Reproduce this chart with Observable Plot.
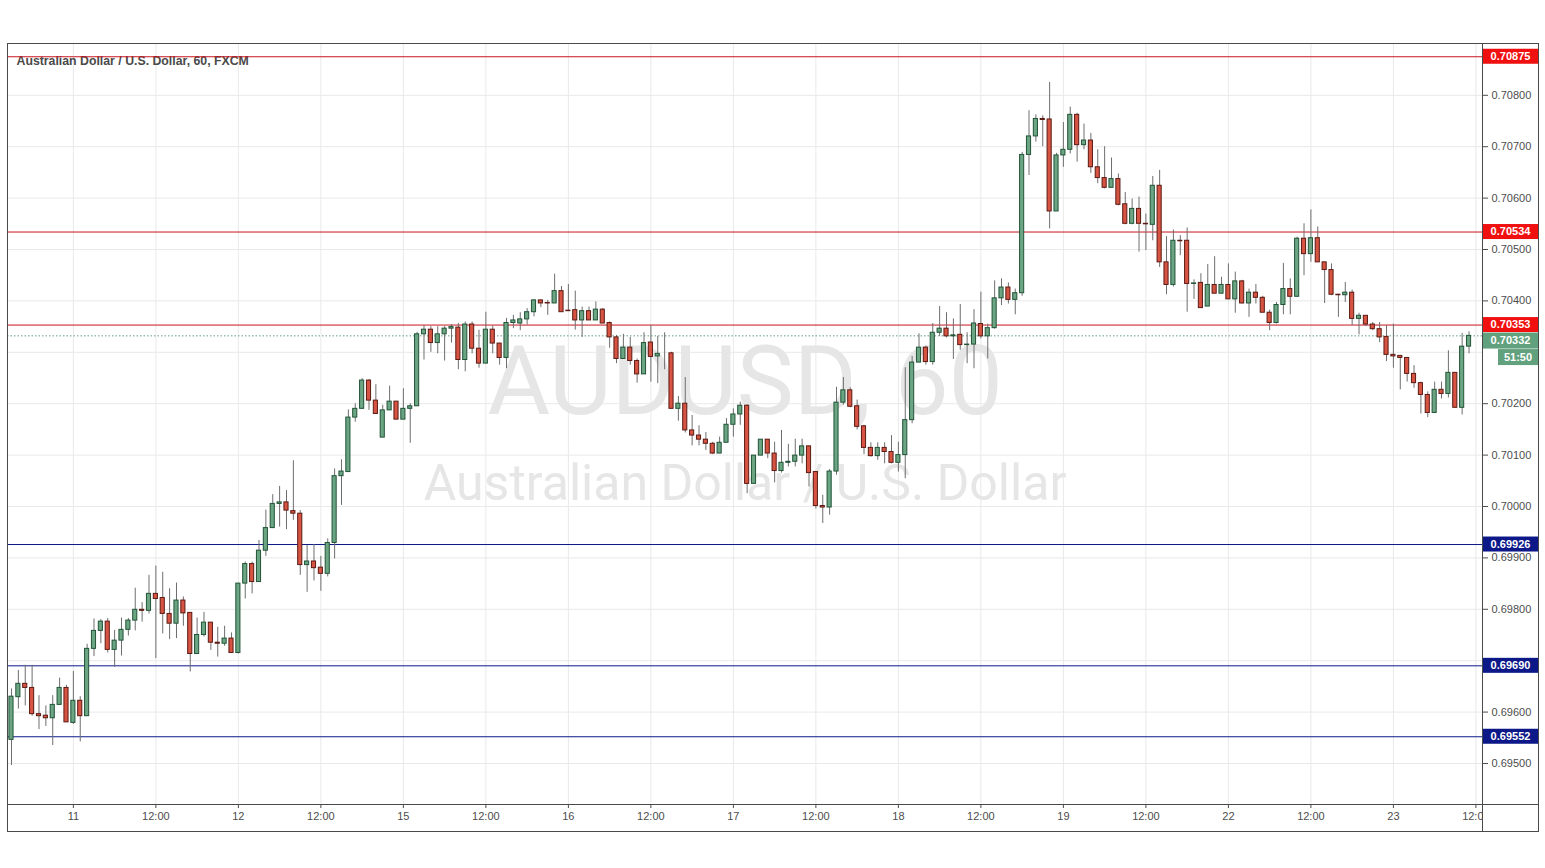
<!DOCTYPE html>
<html><head><meta charset="utf-8">
<script src="https://cdn.jsdelivr.net/npm/d3@7"></script>
<script src="https://cdn.jsdelivr.net/npm/@observablehq/plot@0.6"></script>
<style>
html,body{margin:0;padding:0;background:#fff;}
#chart svg{display:block;}
</style>
</head><body><div id="chart"></div>
<script>
// AUD/USD hourly candles, 10th 15:00 -> 23rd 11:00 (trading hours only)
const opens=[
0.69546,0.69629,0.69655,0.69647,0.69596,0.69593,0.69588,0.69614,0.69647,0.69579,
0.69622,0.69592,0.69723,0.69758,0.69776,0.69721,0.69739,0.69760,0.69778,0.69799,
0.69797,0.69830,0.69822,0.69791,0.69772,0.69817,0.69793,0.69713,0.69750,0.69774,
0.69735,0.69733,0.69743,0.69715,0.69850,0.69888,0.69853,0.69914,0.69958,0.70005,
0.70008,0.69991,0.69986,0.69886,0.69893,0.69881,0.69869,0.69929,0.70059,0.70067,
0.70173,0.70190,0.70245,0.70206,0.70134,0.70187,0.70204,0.70169,0.70190,0.70195,
0.70335,0.70344,0.70318,0.70335,0.70346,0.70348,0.70285,0.70354,0.70307,0.70278,
0.70344,0.70317,0.70289,0.70357,0.70356,0.70364,0.70378,0.70401,0.70396,0.70395,
0.70419,0.70381,0.70382,0.70362,0.70380,0.70362,0.70383,0.70357,0.70329,0.70287,
0.70309,0.70283,0.70257,0.70319,0.70292,0.70297,0.70298,0.70190,0.70200,0.70148,
0.70138,0.70130,0.70122,0.70103,0.70124,0.70159,0.70179,0.70196,0.70044,0.70099,
0.70130,0.70103,0.70069,0.70085,0.70087,0.70099,0.70117,0.70067,0.70001,0.69998,
0.70068,0.70202,0.70226,0.70195,0.70156,0.70114,0.70098,0.70114,0.70106,0.70085,
0.70100,0.70168,0.70280,0.70309,0.70281,0.70338,0.70346,0.70331,0.70334,0.70314,
0.70315,0.70355,0.70331,0.70347,0.70405,0.70426,0.70402,0.70415,0.70684,0.70720,
0.70754,0.70753,0.70574,0.70683,0.70694,0.70762,0.70703,0.70712,0.70660,0.70639,
0.70620,0.70637,0.70588,0.70550,0.70579,0.70550,0.70548,0.70624,0.70475,0.70431,
0.70517,0.70517,0.70433,0.70435,0.70389,0.70431,0.70414,0.70431,0.70403,0.70438,
0.70395,0.70416,0.70406,0.70377,0.70357,0.70392,0.70423,0.70408,0.70521,0.70491,
0.70522,0.70475,0.70460,0.70412,0.70411,0.70416,0.70365,0.70371,0.70354,0.70345,
0.70330,0.70295,0.70293,0.70289,0.70258,0.70240,0.70217,0.70182,0.70227,0.70219,
0.70260,0.70192,0.70311];
const highs=[
0.69645,0.69681,0.69691,0.69691,0.69632,0.69612,0.69632,0.69666,0.69652,0.69679,
0.69630,0.69732,0.69781,0.69780,0.69782,0.69759,0.69783,0.69782,0.69841,0.69813,
0.69866,0.69884,0.69872,0.69840,0.69851,0.69824,0.69793,0.69783,0.69794,0.69774,
0.69765,0.69767,0.69754,0.69850,0.69892,0.69892,0.69934,0.69993,0.70023,0.70039,
0.70031,0.70089,0.69992,0.69924,0.69926,0.69903,0.69937,0.70073,0.70091,0.70188,
0.70200,0.70249,0.70247,0.70237,0.70197,0.70234,0.70204,0.70229,0.70200,0.70339,
0.70352,0.70350,0.70350,0.70350,0.70354,0.70356,0.70359,0.70359,0.70343,0.70378,
0.70351,0.70317,0.70366,0.70372,0.70377,0.70385,0.70402,0.70402,0.70401,0.70452,
0.70428,0.70432,0.70419,0.70388,0.70388,0.70398,0.70385,0.70359,0.70333,0.70335,
0.70329,0.70287,0.70338,0.70352,0.70331,0.70338,0.70300,0.70214,0.70251,0.70177,
0.70157,0.70144,0.70125,0.70135,0.70171,0.70190,0.70203,0.70198,0.70099,0.70130,
0.70130,0.70125,0.70148,0.70121,0.70131,0.70131,0.70117,0.70067,0.70022,0.70072,
0.70232,0.70251,0.70231,0.70207,0.70158,0.70124,0.70124,0.70124,0.70138,0.70125,
0.70270,0.70292,0.70336,0.70312,0.70356,0.70389,0.70377,0.70365,0.70393,0.70338,
0.70383,0.70417,0.70355,0.70439,0.70443,0.70435,0.70423,0.70689,0.70770,0.70762,
0.70760,0.70825,0.70687,0.70747,0.70777,0.70765,0.70744,0.70726,0.70694,0.70700,
0.70678,0.70647,0.70611,0.70598,0.70602,0.70569,0.70642,0.70654,0.70525,0.70538,
0.70527,0.70542,0.70441,0.70453,0.70471,0.70486,0.70446,0.70472,0.70456,0.70440,
0.70423,0.70432,0.70409,0.70382,0.70397,0.70473,0.70443,0.70524,0.70550,0.70577,
0.70544,0.70475,0.70472,0.70413,0.70436,0.70421,0.70376,0.70371,0.70358,0.70358,
0.70352,0.70355,0.70293,0.70290,0.70274,0.70242,0.70223,0.70242,0.70242,0.70303,
0.70260,0.70337,0.70340];
const lows=[
0.69496,0.69606,0.69612,0.69592,0.69566,0.69572,0.69535,0.69614,0.69580,0.69576,
0.69542,0.69592,0.69708,0.69733,0.69715,0.69687,0.69709,0.69748,0.69758,0.69775,
0.69791,0.69704,0.69752,0.69741,0.69743,0.69767,0.69678,0.69713,0.69746,0.69720,
0.69707,0.69728,0.69715,0.69713,0.69820,0.69830,0.69853,0.69903,0.69957,0.69960,
0.69955,0.69973,0.69866,0.69833,0.69855,0.69835,0.69863,0.69898,0.70002,0.70067,
0.70164,0.70190,0.70187,0.70180,0.70134,0.70187,0.70169,0.70169,0.70123,0.70195,
0.70285,0.70300,0.70297,0.70283,0.70318,0.70266,0.70262,0.70297,0.70269,0.70278,
0.70297,0.70275,0.70268,0.70346,0.70342,0.70353,0.70369,0.70387,0.70372,0.70395,
0.70378,0.70380,0.70343,0.70329,0.70362,0.70362,0.70356,0.70308,0.70278,0.70287,
0.70275,0.70240,0.70257,0.70242,0.70239,0.70266,0.70190,0.70166,0.70143,0.70118,
0.70118,0.70109,0.70101,0.70103,0.70124,0.70135,0.70158,0.70025,0.70044,0.70099,
0.70093,0.70046,0.70065,0.70077,0.70077,0.70083,0.70038,0.69995,0.69967,0.69983,
0.70061,0.70197,0.70192,0.70149,0.70101,0.70096,0.70090,0.70083,0.70083,0.70067,
0.70054,0.70161,0.70280,0.70275,0.70275,0.70331,0.70328,0.70286,0.70304,0.70278,
0.70268,0.70326,0.70287,0.70345,0.70391,0.70394,0.70373,0.70409,0.70644,0.70709,
0.70700,0.70540,0.70574,0.70660,0.70686,0.70670,0.70694,0.70648,0.70628,0.70618,
0.70620,0.70585,0.70548,0.70548,0.70495,0.70498,0.70517,0.70465,0.70412,0.70427,
0.70488,0.70378,0.70403,0.70386,0.70389,0.70414,0.70414,0.70403,0.70376,0.70394,
0.70368,0.70394,0.70377,0.70342,0.70355,0.70373,0.70373,0.70408,0.70449,0.70475,
0.70475,0.70395,0.70410,0.70368,0.70397,0.70352,0.70334,0.70350,0.70342,0.70319,
0.70282,0.70269,0.70227,0.70242,0.70230,0.70180,0.70173,0.70182,0.70209,0.70211,
0.70192,0.70178,0.70297];
const closes=[
0.69630,0.69655,0.69647,0.69596,0.69592,0.69588,0.69614,0.69647,0.69580,0.69622,
0.69592,0.69723,0.69758,0.69776,0.69721,0.69739,0.69760,0.69778,0.69799,0.69797,
0.69830,0.69820,0.69791,0.69772,0.69817,0.69792,0.69713,0.69750,0.69774,0.69735,
0.69733,0.69743,0.69715,0.69850,0.69888,0.69853,0.69914,0.69958,0.70005,0.70008,
0.69992,0.69986,0.69886,0.69893,0.69880,0.69869,0.69929,0.70059,0.70068,0.70173,
0.70190,0.70245,0.70206,0.70180,0.70187,0.70204,0.70169,0.70190,0.70195,0.70335,
0.70344,0.70318,0.70335,0.70346,0.70349,0.70285,0.70354,0.70307,0.70278,0.70344,
0.70317,0.70289,0.70357,0.70362,0.70364,0.70378,0.70401,0.70395,0.70395,0.70419,
0.70378,0.70380,0.70362,0.70380,0.70362,0.70383,0.70356,0.70329,0.70287,0.70309,
0.70283,0.70257,0.70318,0.70291,0.70297,0.70297,0.70190,0.70200,0.70148,0.70138,
0.70130,0.70122,0.70103,0.70124,0.70159,0.70179,0.70196,0.70044,0.70099,0.70130,
0.70103,0.70069,0.70085,0.70087,0.70099,0.70117,0.70065,0.70001,0.69998,0.70068,
0.70202,0.70226,0.70194,0.70155,0.70114,0.70098,0.70114,0.70106,0.70085,0.70100,
0.70168,0.70280,0.70309,0.70281,0.70338,0.70346,0.70331,0.70333,0.70314,0.70315,
0.70356,0.70331,0.70347,0.70405,0.70426,0.70402,0.70415,0.70684,0.70720,0.70754,
0.70752,0.70574,0.70683,0.70694,0.70762,0.70703,0.70712,0.70660,0.70639,0.70620,
0.70637,0.70587,0.70550,0.70579,0.70550,0.70549,0.70624,0.70475,0.70431,0.70517,
0.70516,0.70433,0.70434,0.70386,0.70431,0.70414,0.70431,0.70403,0.70438,0.70395,
0.70416,0.70406,0.70377,0.70357,0.70392,0.70423,0.70408,0.70521,0.70491,0.70522,
0.70475,0.70460,0.70412,0.70411,0.70416,0.70365,0.70371,0.70354,0.70345,0.70329,
0.70295,0.70292,0.70289,0.70258,0.70240,0.70217,0.70182,0.70227,0.70219,0.70260,
0.70192,0.70311,0.70332];

const tickIdx=[9,21,33,45,57,69,81,93,105,117,129,141,153,165,177,189,201,213];
const tickLabels=["11","12:00","12","12:00","15","12:00","16","12:00","17","12:00","18","12:00","19","12:00","22","12:00","23","12:00"];
const gridPrices=[0.695,0.696,0.697,0.698,0.699,0.700,0.701,0.702,0.703,0.704,0.705,0.706,0.707,0.708];
// labels hidden behind the level boxes in the reference are left out
const priceLabels=[0.695,0.696,0.698,0.699,0.700,0.701,0.702,0.704,0.705,0.706,0.707,0.708];
const resistance=[0.70875,0.70534,0.70353];
const support=[0.69926,0.69690,0.69552];
const lastPrice=0.70332;
const countdown="51:50";
const title="Australian Dollar / U.S. Dollar, 60, FXCM";
const wmSymbol="AUDUSD, 60";
const wmName="Australian Dollar / U.S. Dollar";

const candles=opens.map((o,i)=>({i,open:o,high:highs[i],low:lows[i],close:closes[i],up:closes[i]>=o}));

const UP="#6ba583",DN="#d75442",UPB="#225437",DNB="#5b1a13",WICK="#6e6e70";
const RED="#c8141e",BLUE="#0c1888",GRID="#e9e9e9";

const chart=Plot.plot({
  width:1545,height:868,
  marginTop:43,marginLeft:7,marginRight:63,marginBottom:64,
  style:{fontFamily:"'Liberation Sans', Arial, sans-serif",fontSize:"11px",color:"#4d4d4d",background:"#fff",overflow:"visible"},
  x:{type:"linear",domain:[-0.58,213.96],ticks:tickIdx,tickFormat:d=>tickLabels[tickIdx.indexOf(d)],tickSize:4,tickPadding:4,label:null},
  y:{type:"linear",domain:[0.694202,0.709008],axis:"right",ticks:priceLabels,tickFormat:d=>d.toFixed(5),tickSize:5,tickPadding:4,label:null},
  marks:[
    Plot.ruleX(tickIdx,{stroke:GRID}),
    Plot.ruleY(gridPrices,{stroke:GRID}),
    Plot.text([wmSymbol],{frameAnchor:"middle",lineAnchor:"bottom",dy:-10,fontSize:96,fontFamily:"Roboto, sans-serif",fill:"#e6e6e6",text:d=>d}),
    Plot.text([wmName],{frameAnchor:"middle",lineAnchor:"bottom",dy:76,fontSize:50,fontFamily:"Roboto, sans-serif",fill:"#e6e6e6",text:d=>d}),
    Plot.text([title],{frameAnchor:"top-left",textAnchor:"start",lineAnchor:"bottom",dx:9,dy:21.5,fontSize:12.3,fontWeight:"bold",fill:"#4a4a4a",text:d=>d}),
    Plot.ruleY(resistance,{stroke:RED,strokeWidth:1}),
    Plot.ruleY(support,{stroke:BLUE,strokeWidth:1}),
    Plot.ruleY([lastPrice],{stroke:"#5f9f7d",strokeDasharray:"1.5,2"}),
    Plot.ruleX(candles,{x:"i",y1:"low",y2:"high",stroke:WICK,strokeWidth:1}),
    Plot.rect(candles,{x1:d=>d.i-0.3,x2:d=>d.i+0.3,y1:"open",y2:"close",fill:d=>d.up?UP:DN,stroke:d=>d.up?UPB:DNB,strokeWidth:1})
  ]
});
document.getElementById("chart").appendChild(chart);

// price-axis labels, borders
const svg=d3.select(chart);
const ys=chart.scale("y");
const fr={l:7,t:43,r:1482,b:804},outer={r:1538,b:831};
const g=svg.append("g");
g.append("rect").attr("x",fr.r+0.5).attr("y",fr.b+0.5).attr("width",outer.r-fr.r).attr("height",outer.b-fr.b).attr("fill","#fff");

const boxes=[];
resistance.forEach(v=>boxes.push({v,fill:"#f01010",text:v.toFixed(5),h:15}));
support.forEach(v=>boxes.push({v,fill:BLUE,text:v.toFixed(5),h:15}));
boxes.push({v:lastPrice,fill:"#62a17e",text:lastPrice.toFixed(5),h:16,cd:true});
boxes.forEach(b=>{b.y=ys.apply(b.v)-b.h/2;});
boxes.sort((a,b)=>a.y-b.y);
for(let k=1;k<boxes.length;k++){const p=boxes[k-1];if(boxes[k].y<p.y+p.h+0.5)boxes[k].y=p.y+p.h+0.5;}
boxes.forEach(b=>{
  g.append("rect").attr("x",fr.r).attr("y",b.y).attr("width",outer.r-fr.r).attr("height",b.h).attr("fill",b.fill);
  g.append("text").attr("x",(fr.r+outer.r)/2+0.5).attr("y",b.y+b.h/2).attr("dy","0.35em").attr("text-anchor","middle")
   .attr("fill","#fff").attr("font-weight","bold").attr("font-size",11).text(b.text);
  if(b.cd){
    const y2=b.y+b.h+0.5;
    g.append("rect").attr("x",1498).attr("y",y2).attr("width",outer.r-1498).attr("height",16).attr("fill","#62a17e");
    g.append("text").attr("x",(1498+outer.r)/2).attr("y",y2+8).attr("dy","0.35em").attr("text-anchor","middle")
     .attr("fill","#fff").attr("font-weight","bold").attr("font-size",11).text(countdown);
  }
});
const bc="#4a4a4a";
g.append("rect").attr("x",fr.l+0.5).attr("y",fr.t+0.5).attr("width",outer.r-fr.l).attr("height",outer.b-fr.t).attr("fill","none").attr("stroke",bc);
g.append("line").attr("x1",fr.r+0.5).attr("x2",fr.r+0.5).attr("y1",fr.t).attr("y2",outer.b+0.5).attr("stroke",bc);
g.append("line").attr("x1",fr.l).attr("x2",outer.r+0.5).attr("y1",fr.b+0.5).attr("y2",fr.b+0.5).attr("stroke",bc);
</script>
</body></html>
